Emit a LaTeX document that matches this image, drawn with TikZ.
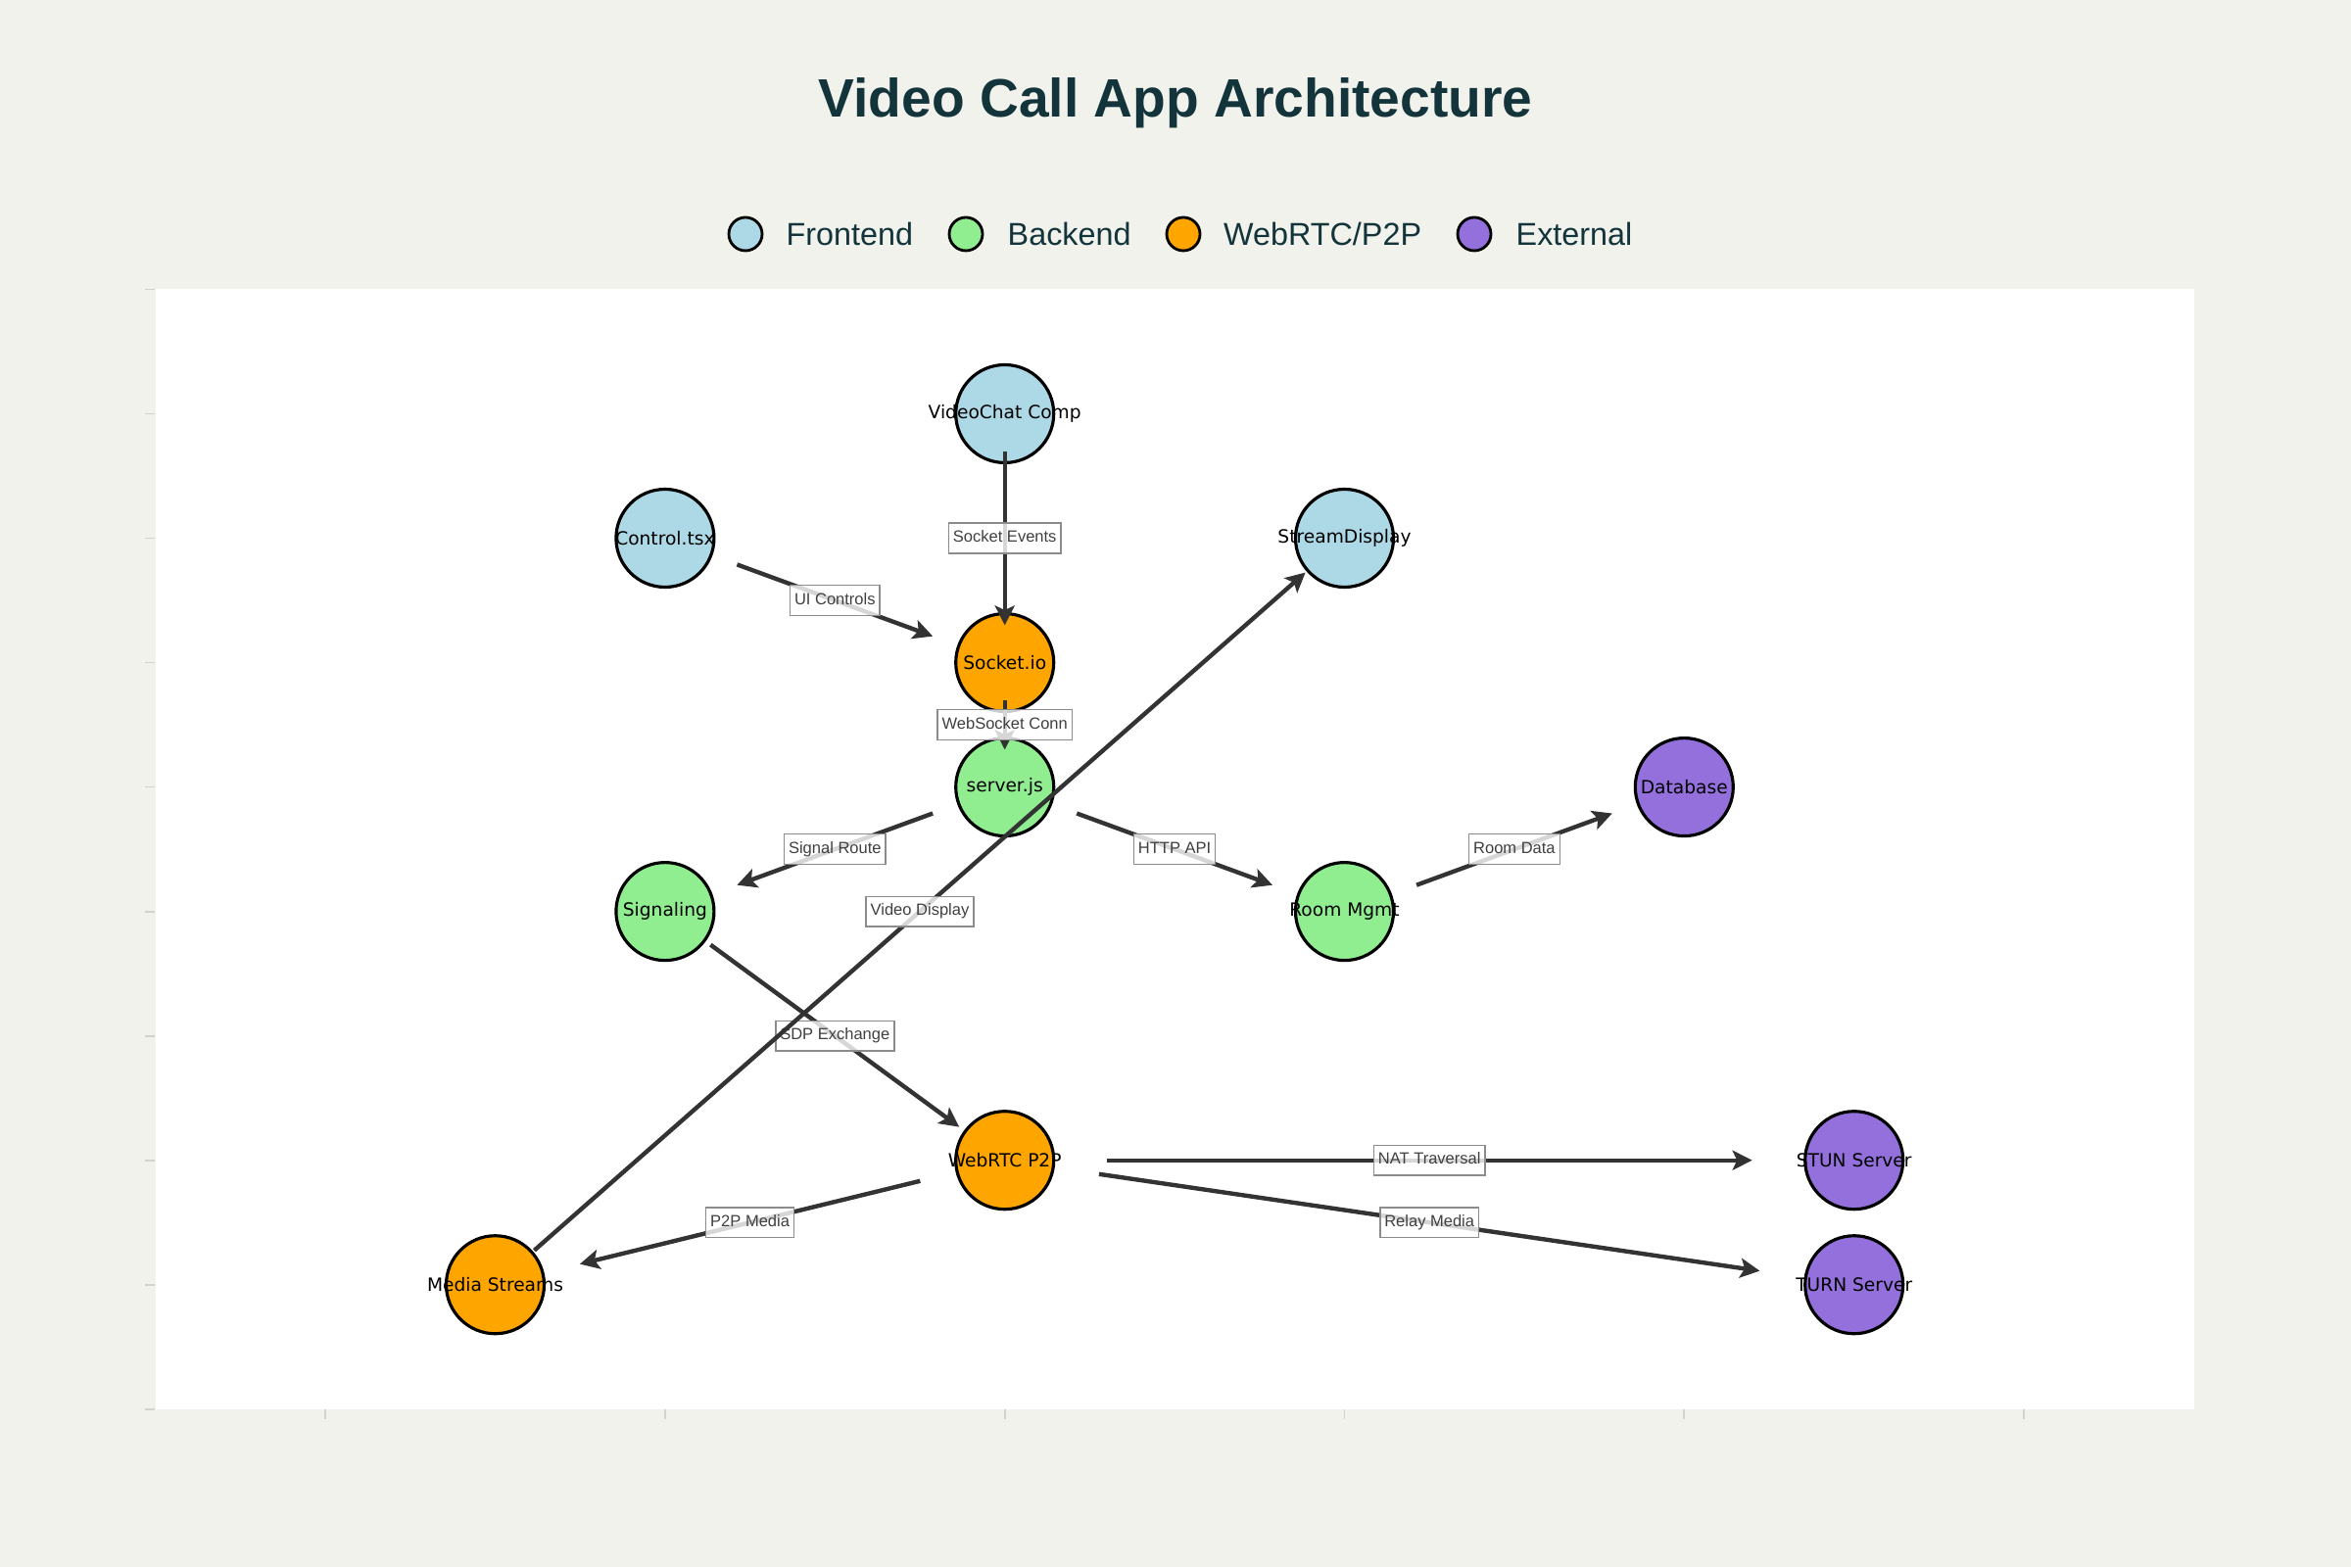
\documentclass[tikz,border=0pt]{standalone}
\usepackage{fontspec}
\setmainfont{Liberation Sans}
\newfontfamily\nodefont{DejaVu Sans}
\usetikzlibrary{calc, arrows.meta}

\definecolor{bgcol}{HTML}{F2F2EC}
\definecolor{titlecol}{HTML}{13343B}
\definecolor{edgecol}{HTML}{333333}
\definecolor{tickcol}{HTML}{D2D2CE}
\definecolor{frontcol}{HTML}{ADD8E6}
\definecolor{backcol}{HTML}{90EE90}
\definecolor{rtccol}{HTML}{FFA500}
\definecolor{extcol}{HTML}{9370DB}

\begin{document}
\begin{tikzpicture}[
        comp/.style={circle, draw=black, line width=0.9pt, minimum size=1cm, inner sep=0pt,
            font=\nodefont\fontsize{5.3}{6}\selectfont},
        front/.style={comp, fill=frontcol},
        back/.style={comp, fill=backcol},
        rtc/.style={comp, fill=rtccol},
        ext/.style={comp, fill=extcol},
        link/.style={draw=edgecol, line width=1.25pt, -{Stealth[length=2mm, width=2mm, inset=0.45mm]}},
        elabel/.style={draw=black!45, line width=0.4pt, fill=white, fill opacity=0.8, text opacity=1,
            text=black!75, font=\fontsize{4.7}{5}\selectfont, inner xsep=0.45mm, inner ysep=0.75mm,
            text height=3.4pt, text depth=1.1pt},
        legdot/.style={circle, draw=black, line width=0.8pt, minimum size=0.34cm, inner sep=0pt},
        legtext/.style={anchor=base west, text=titlecol, font=\fontsize{9.2}{11}\selectfont, inner sep=0pt}
    ]
    \fill[bgcol] (0,0) rectangle (24,16);
    \useasboundingbox (0,0) rectangle (24,16);

    \node[anchor=base, text=titlecol, font=\bfseries\fontsize{15.7}{19}\selectfont, inner sep=0pt]
        (title) at (12,14.807) {Video Call App Architecture};

    % legend
    \node[legdot, fill=frontcol] (leg-fe) at (7.61,13.61) {};
    \node[legtext] (leg-fe-t) at (8.02,13.493) {Frontend};
    \node[legdot, fill=backcol] (leg-be) at (9.86,13.61) {};
    \node[legtext] (leg-be-t) at (10.28,13.493) {Backend};
    \node[legdot, fill=rtccol] (leg-rtc) at (12.08,13.61) {};
    \node[legtext] (leg-rtc-t) at (12.485,13.493) {WebRTC/P2P};
    \node[legdot, fill=extcol] (leg-ext) at (15.05,13.61) {};
    \node[legtext] (leg-ext-t) at (15.47,13.493) {External};

    \begin{scope}[x=3.468cm, y=1.2704cm, shift={(3.321cm,1.612cm)}]
        \fill[white] (-0.5,0) rectangle (5.5,9);
        \foreach \k in {0,...,9}
            \draw[tickcol, line width=0.5pt] (-0.5,\k) ++(-0.01cm,0) -- ++(-0.1cm,0);
        \foreach \k in {0,...,5}
            \draw[tickcol, line width=0.5pt] (\k,0) -- ++(0,-0.1cm);

        % components
        \node[front] (vc) at (2,8) {\makebox[0pt]{VideoChat Comp}};
        \node[front] (ctrl) at (1,7) {\makebox[0pt]{Control.tsx}};
        \node[front] (disp) at (3,7) {\makebox[0pt]{StreamDisplay}};
        \node[rtc] (sock) at (2,6) {\makebox[0pt]{Socket.io}};
        \node[back] (srv) at (2,5) {\makebox[0pt]{server.js}};
        \node[ext] (db) at (4,5) {\makebox[0pt]{Database}};
        \node[back] (sig) at (1,4) {\makebox[0pt]{Signaling}};
        \node[back] (room) at (3,4) {\makebox[0pt]{Room Mgmt}};
        \node[rtc] (p2p) at (2,2) {\makebox[0pt]{WebRTC P2P}};
        \node[ext] (stun) at (4.5,2) {\makebox[0pt]{STUN Server}};
        \node[rtc] (media) at (0.5,1) {\makebox[0pt]{Media Streams}};
        \node[ext] (turn) at (4.5,1) {\makebox[0pt]{TURN Server}};

        % connections
        \draw[link] ($(vc)!0.15!(sock)$) -- ($(sock)!0.15!(vc)$) node[elabel, midway] (l-ev) {Socket Events};
        \draw[link] ($(ctrl)!0.212!(sock)$) -- ($(sock)!0.212!(ctrl)$) node[elabel, midway] (l-ui) {UI Controls};
        \draw[link] ($(sock)!0.3!(srv)$) -- ($(srv)!0.3!(sock)$) node[elabel, midway] (l-ws) {WebSocket Conn};
        \draw[link] ($(srv)!0.212!(sig)$) -- ($(sig)!0.212!(srv)$) node[elabel, midway] (l-sr) {Signal Route};
        \draw[link] ($(srv)!0.212!(room)$) -- ($(room)!0.212!(srv)$) node[elabel, midway] (l-http) {HTTP API};
        \draw[link] ($(room)!0.212!(db)$) -- ($(db)!0.212!(room)$) node[elabel, midway] (l-rd) {Room Data};
        \draw[link] ($(sig)!0.134!(p2p)$) -- ($(p2p)!0.134!(sig)$) node[elabel, midway] (l-sdp) {SDP Exchange};
        \draw[link] ($(p2p)!0.12!(stun)$) -- ($(stun)!0.12!(p2p)$) node[elabel, midway] (l-nat) {NAT Traversal};
        \draw[link] ($(p2p)!0.111!(turn)$) -- ($(turn)!0.111!(p2p)$) node[elabel, midway] (l-relay) {Relay Media};
        \draw[link] ($(p2p)!0.166!(media)$) -- ($(media)!0.166!(p2p)$) node[elabel, midway] (l-pm) {P2P Media};
        \draw[link] ($(media)!0.046!(disp)$) -- ($(disp)!0.046!(media)$) node[elabel, midway] (l-vd) {Video Display};
    \end{scope}
\end{tikzpicture}
\end{document}
